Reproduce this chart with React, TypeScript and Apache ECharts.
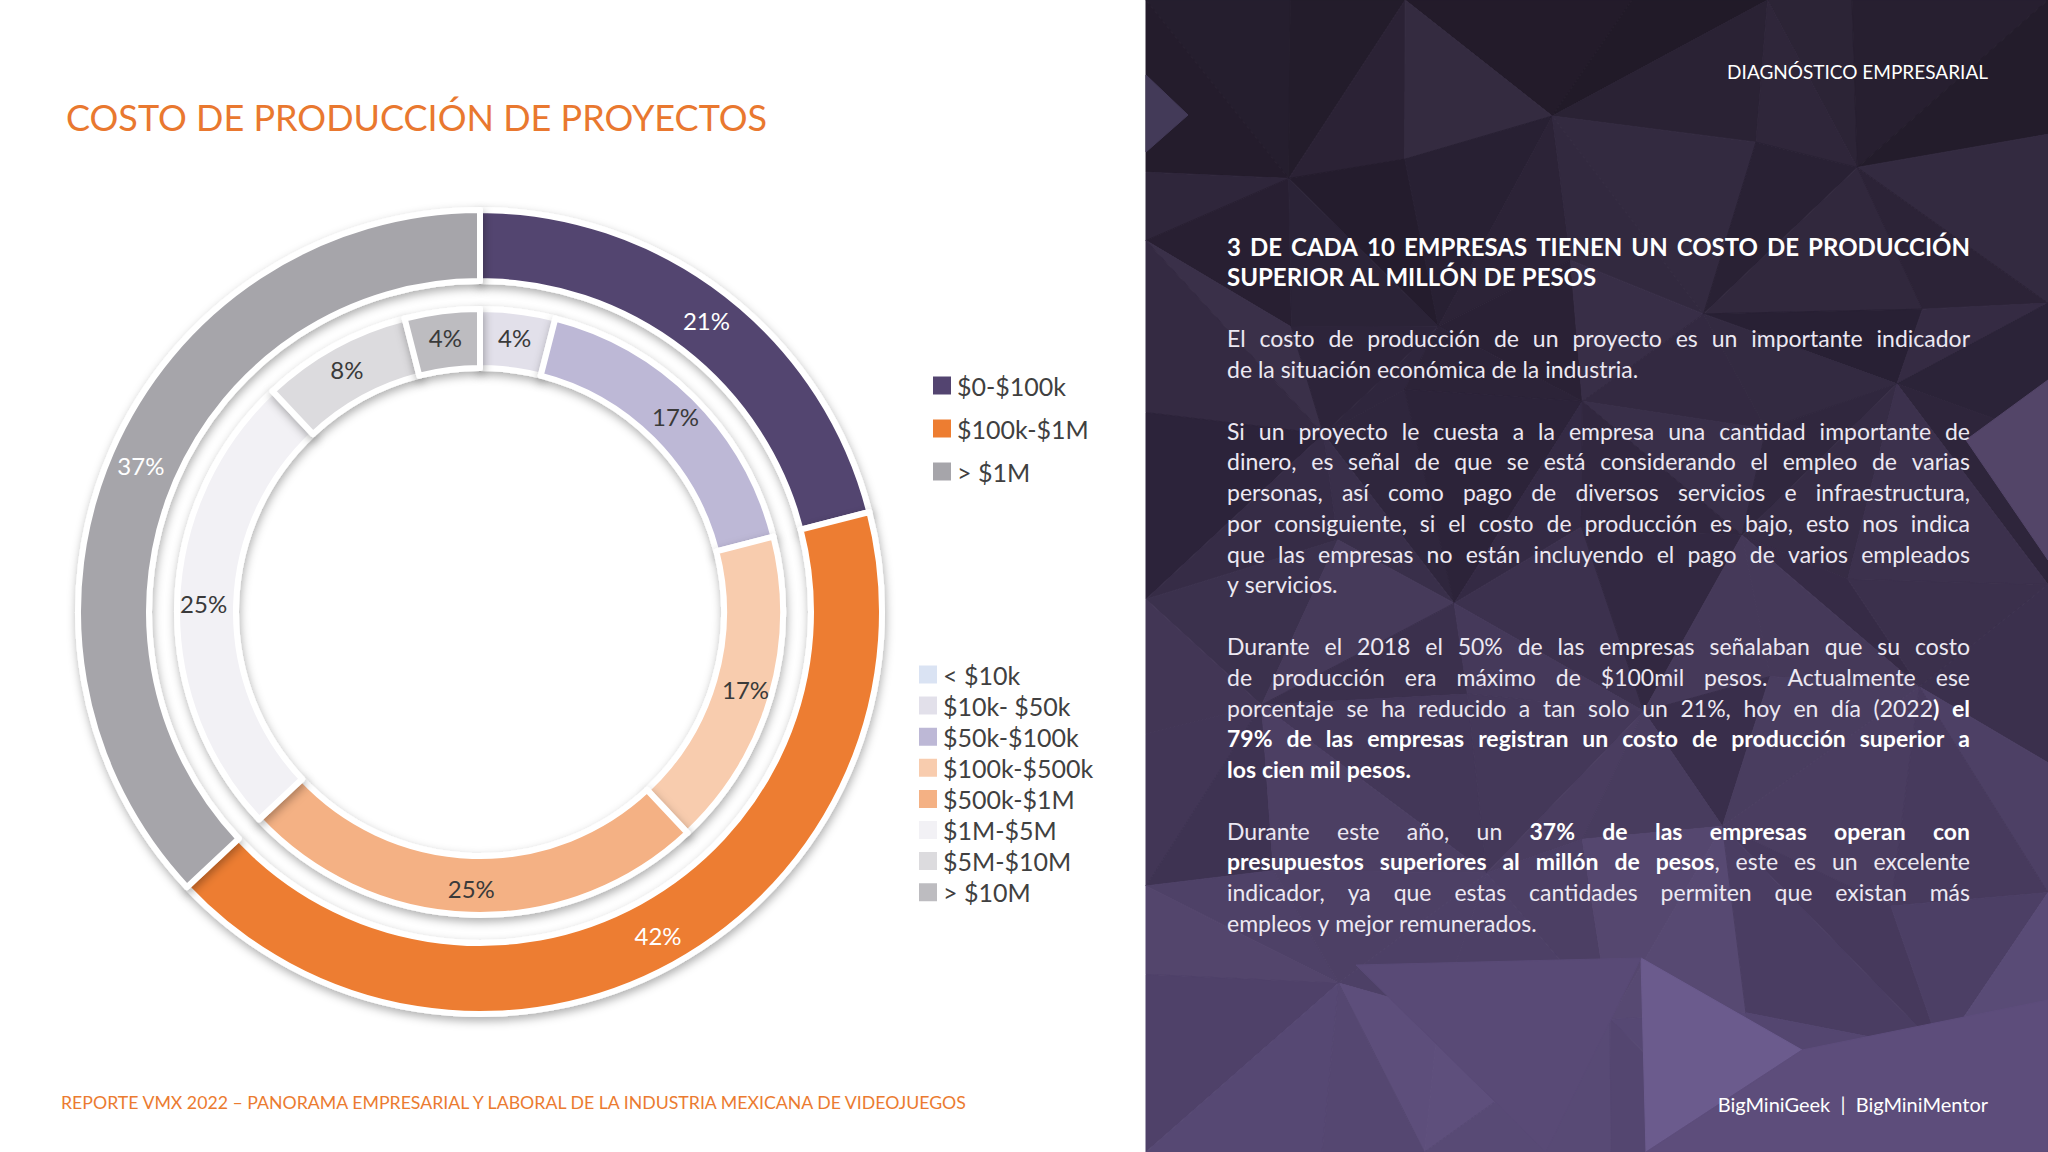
import React, { useEffect, useRef } from 'react';
import * as echarts from 'echarts';

// ---------- Data ----------
const OUTER_NAMES = ['$0-$100k', '$100k-$1M', '> $1M'];
const OUTER_VALUES = [21, 42, 37];
const OUTER_COLORS = ['#534470', '#ED7D31', '#A6A5AA'];

const INNER_NAMES = ['< $10k', '$10k- $50k', '$50k-$100k', '$100k-$500k', '$500k-$1M', '$1M-$5M', '$5M-$10M', '> $10M'];
const INNER_VALUES = [0, 4, 17, 17, 25, 25, 8, 4];
const INNER_COLORS = ['#DAE3F3', '#E2E0EA', '#BDB8D6', '#F8CCAE', '#F4B184', '#F2F1F5', '#DCDBDE', '#BDBCC0'];

// ---------- Texts ----------
const TITLE = 'COSTO DE PRODUCCIÓN DE PROYECTOS';
const FOOTER_LEFT = 'REPORTE VMX 2022 – PANORAMA EMPRESARIAL Y LABORAL DE LA INDUSTRIA MEXICANA DE VIDEOJUEGOS';
const HEADER_RIGHT = 'DIAGNÓSTICO EMPRESARIAL';
const FOOTER_RIGHT = 'BigMiniGeek  |  BigMiniMentor';

type Piece = [string, boolean];
type Line = string | Piece[];

const HEADING: Line[] = [
  [['3 DE CADA 10 EMPRESAS TIENEN UN COSTO DE PRODUCCIÓN', true]],
  [['SUPERIOR AL MILLÓN DE PESOS', true]],
];
const PARA_1: Line[] = [
  'El costo de producción de un proyecto es un importante indicador',
  'de la situación económica de la industria.',
];
const PARA_2: Line[] = [
  'Si un proyecto le cuesta a la empresa una cantidad importante de',
  'dinero, es señal de que se está considerando el empleo de varias',
  'personas, así como pago de diversos servicios e infraestructura,',
  'por consiguiente, si el costo de producción es bajo, esto nos indica',
  'que las empresas no están incluyendo el pago de varios empleados',
  'y servicios.',
];
const PARA_3: Line[] = [
  'Durante el 2018 el 50% de las empresas señalaban que su costo',
  'de producción era máximo de $100mil pesos. Actualmente ese',
  [['porcentaje se ha reducido a tan solo un 21%, hoy en día (2022', false], [') el', true]],
  [['79% de las empresas registran un costo de producción superior a', true]],
  [['los cien mil pesos.', true]],
];
const PARA_4: Line[] = [
  [['Durante este año, un ', false], ['37% de las empresas operan con', true]],
  [['presupuestos superiores al millón de pesos', true], [', este es un excelente', false]],
  'indicador, ya que estas cantidades permiten que existan más',
  'empleos y mejor remunerados.',
];

const TEXT_BLOCKS = [
  { row: 0, size: 24, lines: HEADING },
  { row: 3, size: 23, lines: PARA_1 },
  { row: 6, size: 23, lines: PARA_2 },
  { row: 13, size: 23, lines: PARA_3 },
  { row: 19, size: 23, lines: PARA_4 },
];

// ---------- Layout constants ----------
const W = 2048;
const H = 1152;
const PANEL_X = 1146;
const PANEL_W = W - PANEL_X;
const TEXT_LEFT = 1227;
const TEXT_RIGHT = 1970;
const TEXT_TOP = 246;
const LINE_STEP = 30.77;
const FONT = 'Lato';

let measureCtx: CanvasRenderingContext2D | null = null;
function textWidth(t: string, size: number, bold: boolean): number {
  if (!measureCtx) {
    const c = document.createElement('canvas');
    measureCtx = c.getContext('2d');
  }
  if (!measureCtx) return t.length * size * 0.5;
  measureCtx.font = `${bold ? 'bold ' : ''}${size}px ${FONT}`;
  return measureCtx.measureText(t).width;
}

function toPieces(line: Line): Piece[] {
  return typeof line === 'string' ? [[line, false]] : line;
}

function splitWords(pieces: Piece[]): Piece[][] {
  const words: Piece[][] = [];
  let cur: Piece[] = [];
  for (const [txt, bold] of pieces) {
    for (const ch of txt) {
      if (ch === ' ') {
        if (cur.length) { words.push(cur); cur = []; }
      } else {
        const last = cur[cur.length - 1];
        if (last && last[1] === bold) last[0] += ch;
        else cur.push([ch, bold]);
      }
    }
  }
  if (cur.length) words.push(cur);
  return words;
}

function buildBodyText(): any[] {
  const els: any[] = [];
  TEXT_BLOCKS.forEach((block) => {
    block.lines.forEach((line, li) => {
      const y = TEXT_TOP + (block.row + li) * LINE_STEP;
      const justify = li < block.lines.length - 1;
      const words = splitWords(toPieces(line));
      const widths = words.map((w) => w.reduce((s, p) => s + textWidth(p[0], block.size, p[1]), 0));
      const total = widths.reduce((a, b) => a + b, 0);
      const space = textWidth(' ', block.size, false);
      let gap = space;
      if (justify && words.length > 1) gap = Math.max(3, (TEXT_RIGHT - TEXT_LEFT - total) / (words.length - 1));
      let x = TEXT_LEFT;
      words.forEach((w, wi) => {
        let px = x;
        w.forEach(([txt, bold]) => {
          els.push({
            type: 'text',
            x: px,
            y,
            silent: true,
            z: 10,
            style: {
              text: txt,
              fill: bold ? '#ffffff' : '#ECE8F2',
              fontFamily: FONT,
              fontSize: block.size,
              fontWeight: bold ? 'bold' : 'normal',
              align: 'left',
              verticalAlign: 'middle',
            },
          });
          px += textWidth(txt, block.size, bold);
        });
        x += widths[wi] + gap;
      });
    });
  });
  return els;
}

function fittedText(text: string, x: number, y: number, size: number, width: number, color: string, bold = false): any {
  const natural = textWidth(text, size, bold);
  const sx = natural > 0 ? width / natural : 1;
  return {
    type: 'text',
    x,
    y,
    scaleX: sx,
    silent: true,
    z: 10,
    style: {
      text,
      fill: color,
      fontFamily: FONT,
      fontSize: size,
      fontWeight: bold ? 'bold' : 'normal',
      align: 'left',
      verticalAlign: 'middle',
    },
  };
}

// ---------- Decorative low-poly background ----------
function rnd(i: number, j: number, k: number): number {
  const s = Math.sin(i * 127.1 + j * 311.7 + k * 74.7) * 43758.5453;
  return s - Math.floor(s);
}
const BG_STOPS: [number, number[]][] = [
  [0, [41, 33, 50]],
  [0.3, [47, 38, 60]],
  [0.55, [60, 49, 78]],
  [0.8, [76, 63, 100]],
  [1, [88, 74, 118]],
];
function bgColor(t: number): number[] {
  for (let k = 0; k < BG_STOPS.length - 1; k++) {
    const [t0, c0] = BG_STOPS[k];
    const [t1, c1] = BG_STOPS[k + 1];
    if (t <= t1) {
      const f = Math.max(0, (t - t0) / (t1 - t0));
      return c0.map((v, n) => v + (c1[n] - v) * f);
    }
  }
  return BG_STOPS[BG_STOPS.length - 1][1];
}
function rgb(c: number[]): string {
  const cl = c.map((v) => Math.max(0, Math.min(255, Math.round(v))));
  return `rgb(${cl[0]},${cl[1]},${cl[2]})`;
}

function buildBackground(): any[] {
  const els: any[] = [];
  const NX = 7;
  const NY = 9;
  const sx = PANEL_W / (NX - 1);
  const sy = H / (NY - 1);
  const pts: number[][][] = [];
  for (let i = 0; i < NX; i++) {
    pts.push([]);
    for (let j = 0; j < NY; j++) {
      let x = i * sx;
      let y = j * sy;
      if (i > 0 && i < NX - 1) x += (rnd(i, j, 1) - 0.5) * sx * 0.7;
      if (j > 0 && j < NY - 1) y += (rnd(i, j, 2) - 0.5) * sy * 0.7;
      pts[i].push([x, y]);
    }
  }
  for (let i = 0; i < NX - 1; i++) {
    for (let j = 0; j < NY - 1; j++) {
      const a = pts[i][j], b = pts[i + 1][j], c = pts[i + 1][j + 1], d = pts[i][j + 1];
      const tris = (i + j) % 2 === 0 ? [[a, b, c], [a, c, d]] : [[a, b, d], [b, c, d]];
      tris.forEach((tri, k) => {
        const cy = (tri[0][1] + tri[1][1] + tri[2][1]) / 3;
        const base = bgColor(cy / H);
        const v = (rnd(i, j, k + 5) - 0.45) * 20;
        const col = rgb([base[0] + v, base[1] + v * 0.9, base[2] + v * 1.25]);
        els.push({
          type: 'polygon',
          silent: true,
          z: 0,
          shape: { points: tri.map(([x, y]) => [x + PANEL_X, y]) },
          style: { fill: col, stroke: col, lineWidth: 1 },
        });
      });
    }
  }
  const facets: [number[][], string][] = [
    [[[0, 75], [42, 115], [0, 152]], '#433a58'],
    [[[495, 958], [656, 1050], [500, 1152]], '#6b5b8d'],
    [[[656, 1050], [902, 1000], [902, 1152], [500, 1152]], '#5d4d7b'],
    [[[210, 965], [495, 958], [400, 1152]], '#594a76'],
    [[[820, 440], [902, 380], [902, 560]], '#534568'],
  ];
  facets.forEach(([p, col]) => {
    els.push({
      type: 'polygon',
      silent: true,
      z: 1,
      shape: { points: p.map(([x, y]) => [x + PANEL_X, y]) },
      style: { fill: col, stroke: col, lineWidth: 1 },
    });
  });
  return els;
}

export default function App() {
  const ref = useRef<HTMLDivElement>(null);
  useEffect(() => {
    if (!ref.current) return;
    const chart = echarts.init(ref.current, undefined, { renderer: 'svg', width: W, height: H });

    const graphic: any[] = [
      { type: 'rect', silent: true, z: -1, shape: { x: 0, y: 0, width: PANEL_X, height: H }, style: { fill: '#ffffff' } },
      ...buildBackground(),
      fittedText(TITLE, 66, 117, 37, 701, '#E9782F'),
      fittedText(FOOTER_LEFT, 61, 1103, 17, 911, '#EB7B30'),
      {
        type: 'text', x: 1988, y: 71, silent: true, z: 10,
        style: { text: HEADER_RIGHT, fill: '#ffffff', fontFamily: FONT, fontSize: 19, align: 'right', verticalAlign: 'middle' },
      },
      {
        type: 'text', x: 1988, y: 1104, silent: true, z: 10,
        style: { text: FOOTER_RIGHT, fill: '#ffffff', fontFamily: FONT, fontSize: 20, align: 'right', verticalAlign: 'middle' },
      },
      ...buildBodyText(),
    ];

    const ringStyle = {
      borderColor: '#ffffff',
      borderWidth: 6,
      shadowBlur: 10,
      shadowColor: 'rgba(0,0,0,0.32)',
      shadowOffsetX: 1,
      shadowOffsetY: 4,
    };
    const legendText = { fontFamily: FONT, fontSize: 25, color: '#404040' };

    chart.setOption({
      animation: false,
      backgroundColor: '#ffffff',
      graphic: { elements: graphic },
      legend: [
        {
          data: OUTER_NAMES, orient: 'vertical', left: 931, top: 373, padding: 0,
          itemWidth: 20, itemHeight: 20, itemGap: 18, icon: 'rect', selectedMode: false,
          textStyle: legendText,
        },
        {
          data: INNER_NAMES, orient: 'vertical', left: 917, top: 662, padding: 0,
          itemWidth: 20, itemHeight: 20, itemGap: 6.1, icon: 'rect', selectedMode: false,
          textStyle: legendText,
        },
      ],
      series: [
        {
          type: 'pie',
          name: 'outer',
          center: [480, 612],
          radius: [331, 402],
          startAngle: 90,
          clockwise: true,
          silent: true,
          emphasis: { disabled: true },
          itemStyle: ringStyle,
          label: { show: true, position: 'inside', formatter: '{c}%', color: '#ffffff', fontFamily: FONT, fontSize: 24 },
          labelLine: { show: false },
          data: OUTER_NAMES.map((n, i) => ({ name: n, value: OUTER_VALUES[i], itemStyle: { color: OUTER_COLORS[i] } })),
        },
        {
          type: 'pie',
          name: 'inner',
          center: [480, 612],
          radius: [244, 303],
          startAngle: 90,
          clockwise: true,
          silent: true,
          stillShowZeroSum: true,
          emphasis: { disabled: true },
          itemStyle: ringStyle,
          label: { show: true, position: 'inside', formatter: '{c}%', color: '#3a3a3a', fontFamily: FONT, fontSize: 24 },
          labelLine: { show: false },
          data: INNER_NAMES.map((n, i) => ({
            name: n,
            value: INNER_VALUES[i],
            itemStyle: { color: INNER_COLORS[i] },
            label: INNER_VALUES[i] === 0 ? { show: false } : undefined,
          })),
        },
      ],
    });
    return () => chart.dispose();
  }, []);
  return <div ref={ref} style={{ position: 'fixed', left: 0, top: 0, width: W, height: H }} />;
}
